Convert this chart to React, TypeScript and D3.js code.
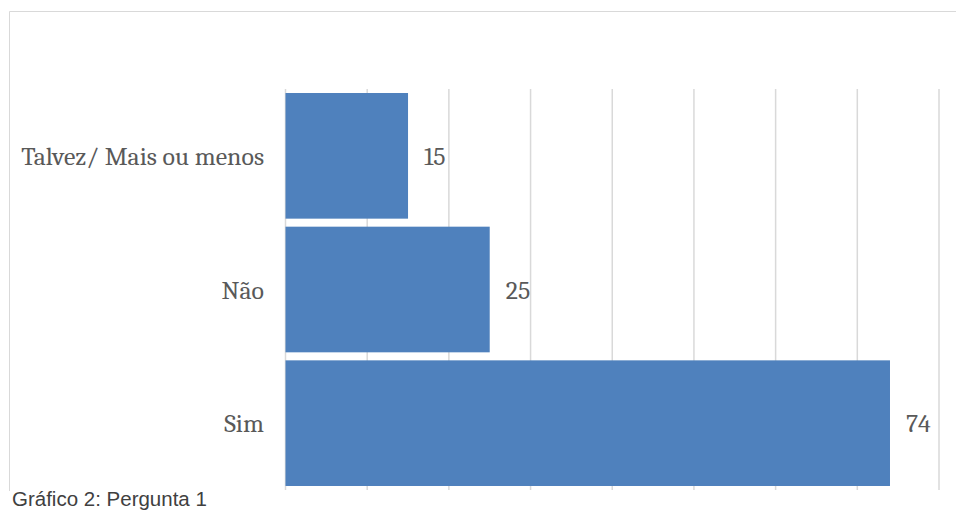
import React from "react";
import * as d3 from "d3";

const categories = ["Talvez/ Mais ou menos", "Não", "Sim"];
const values = [15, 25, 74];
const xTicks = [0, 10, 20, 30, 40, 50, 60, 70, 80];
const caption = "Gráfico 2: Pergunta 1";

export default function App() {
  const W = 956, H = 512;
  const x = d3.scaleLinear().domain([0, 80]).range([285.5, 939]);
  const y = d3.scaleBand().domain(categories).range([89, 490]).paddingInner(0.06).paddingOuter(0.03);
  const serif = "Cambria, 'DejaVu Serif', serif";
  return (
    <svg width={W} height={H} style={{ position: "absolute", left: 0, top: 0 }}>
      <rect x={0} y={0} width={W} height={H} fill="#fff" />
      <line x1={9.5} x2={W} y1={11.5} y2={11.5} stroke="#d9d9d9" strokeWidth={1} />
      <line x1={9.5} x2={9.5} y1={11.5} y2={H} stroke="#d9d9d9" strokeWidth={1} />
      {xTicks.map((t) => (
        <line key={t} x1={x(t)} x2={x(t)} y1={89} y2={490} stroke="#d9d9d9" strokeWidth={1.5} />
      ))}
      {categories.map((c, i) => (
        <g key={c}>
          <rect x={x(0)} y={y(c)!} width={x(values[i]) - x(0)} height={y.bandwidth()} fill="#4f81bd" />
          <text x={264} y={y(c)! + y.bandwidth() / 2} dy="0.35em" textAnchor="end" fontFamily={serif} fontSize={25.8} fill="#595959">
            {c}
          </text>
          <text x={x(values[i]) + 16} y={y(c)! + y.bandwidth() / 2} dy="0.35em" textAnchor="start" fontFamily={serif} fontSize={25.8} fill="#595959">
            {values[i]}
          </text>
        </g>
      ))}
      <rect x={0} y={491} width={230} height={21} fill="#fff" />
      <text x={12} y={506} fontFamily="Arial, 'Liberation Sans', sans-serif" fontSize={20.5} fill="#404040">
        {caption}
      </text>
    </svg>
  );
}
